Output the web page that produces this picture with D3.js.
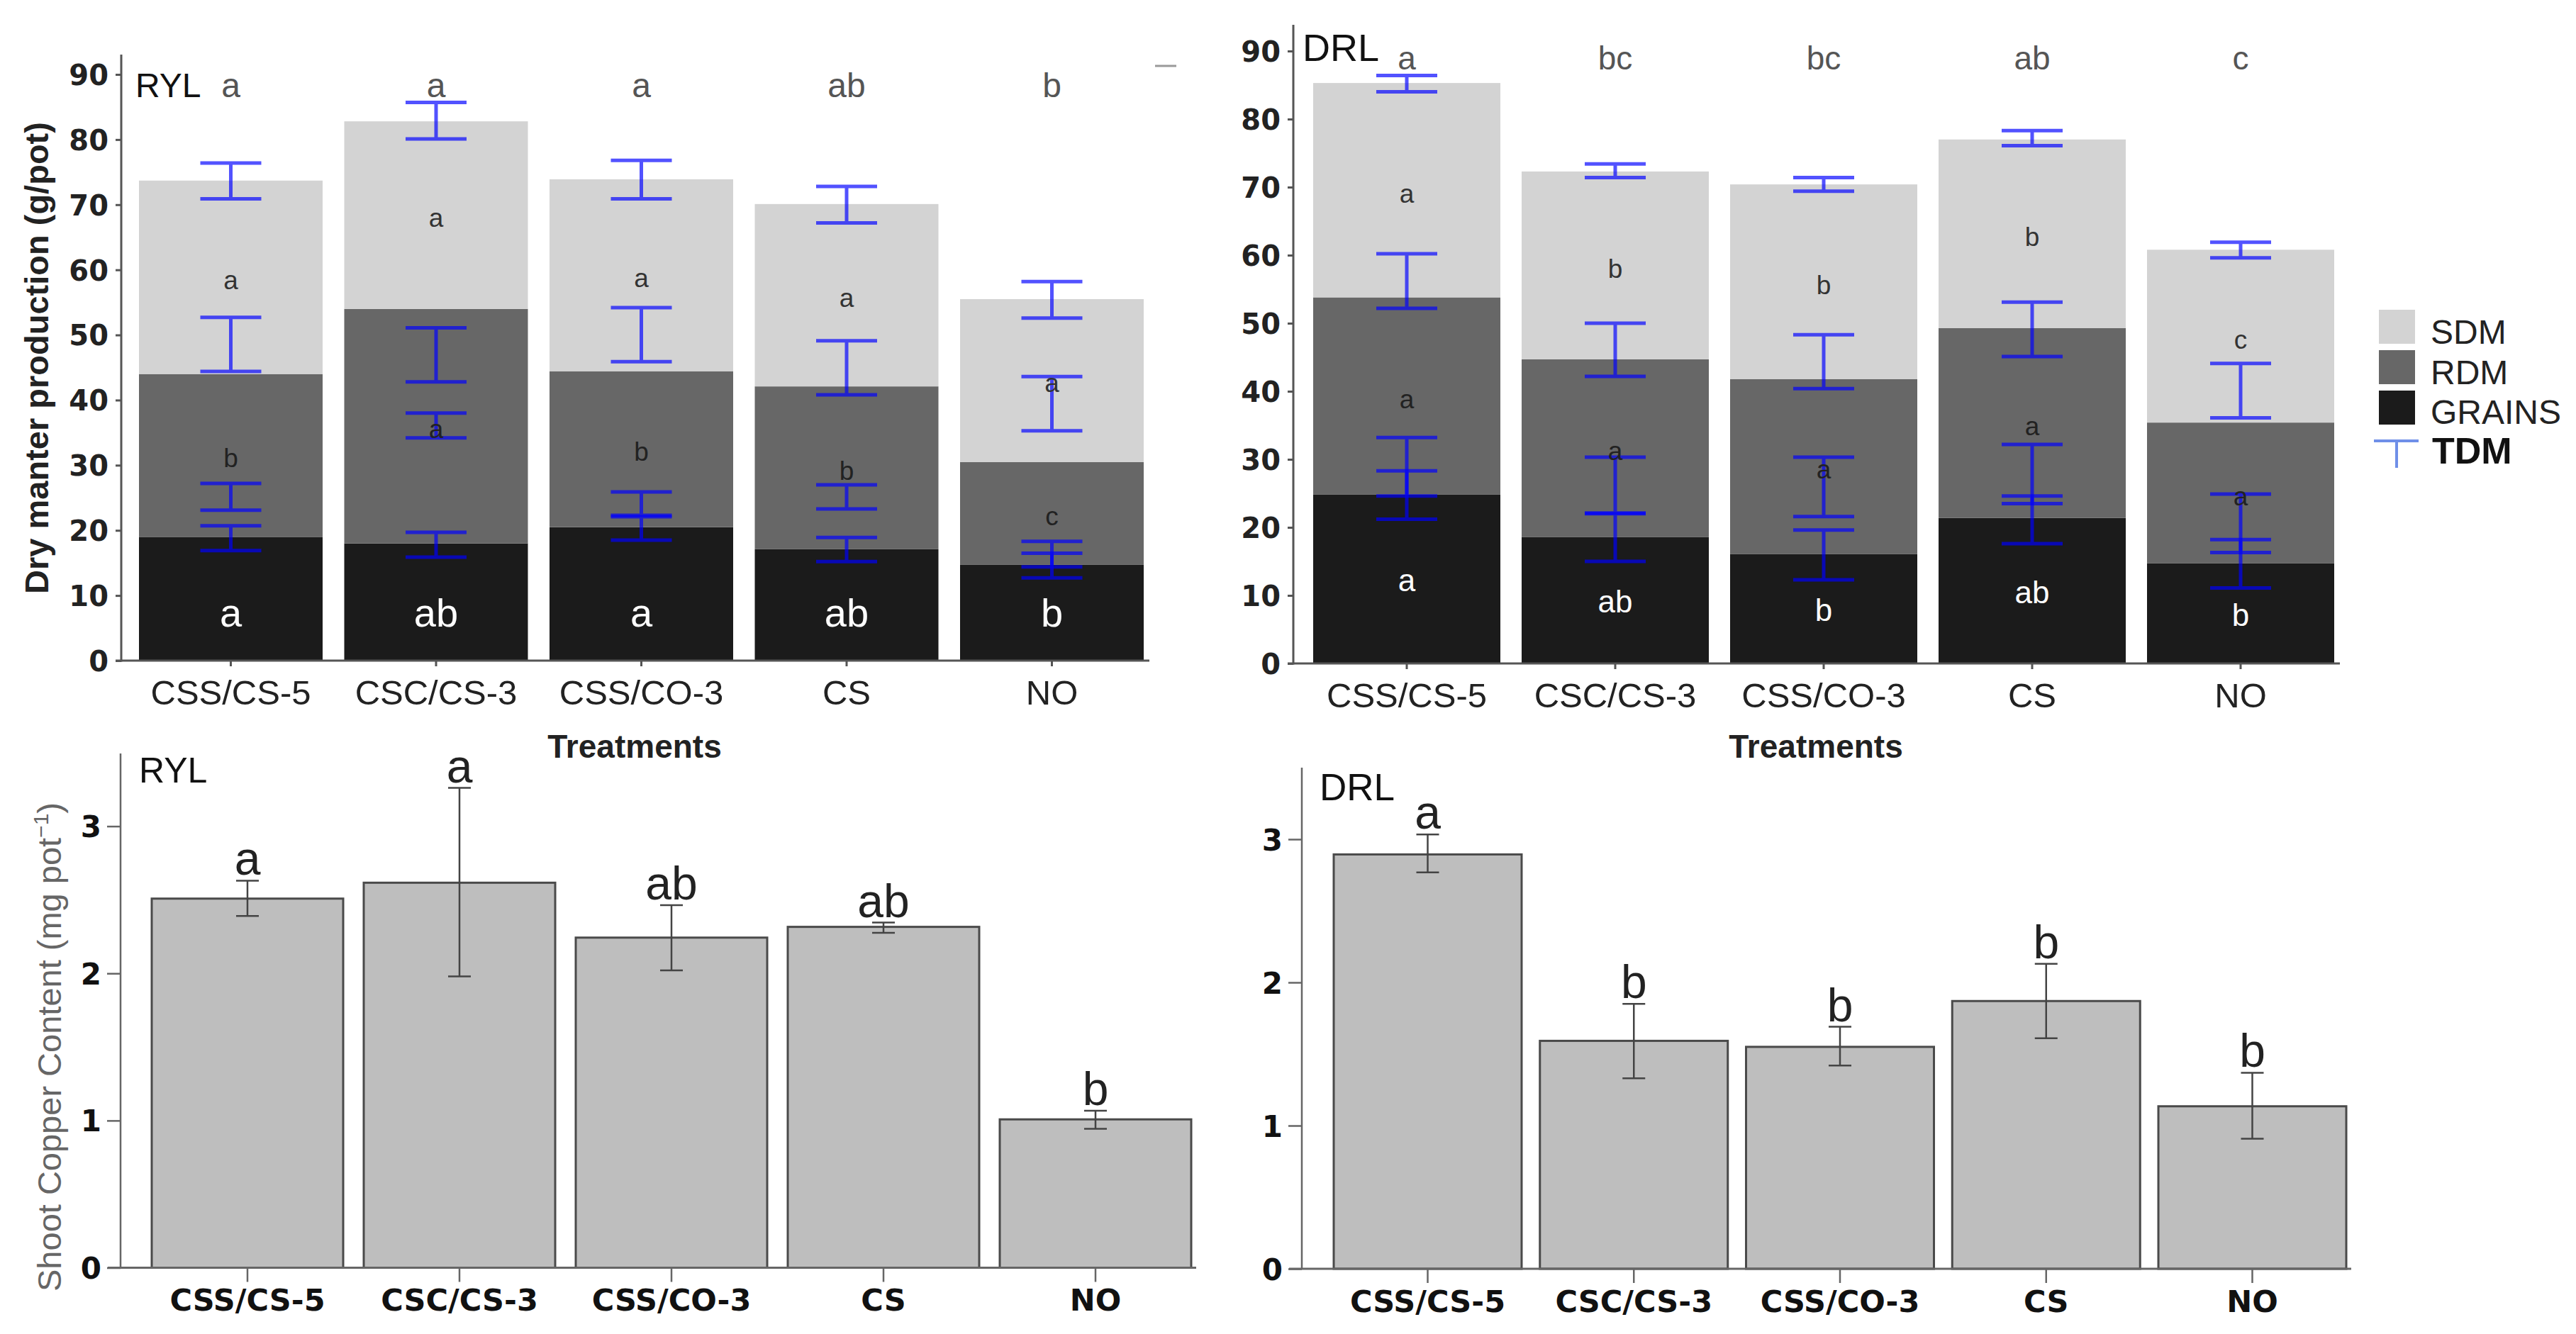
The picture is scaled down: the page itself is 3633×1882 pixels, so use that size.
<!DOCTYPE html>
<html><head><meta charset="utf-8">
<script src="https://cdn.jsdelivr.net/npm/d3@7/dist/d3.min.js"></script>
<style>body{margin:0;background:#fff}svg{display:block}</style>
</head><body>
<svg id="c" width="3633" height="1882"></svg>
<script>
// ---------------- DATA ----------------
const treatments = ["CSS/CS-5","CSC/CS-3","CSS/CO-3","CS","NO"];
const stackKeys = ["GRAINS","RDM","SDM"];
const legendNames = ["SDM","RDM","GRAINS"];
const errName = "TDM";
const yTicksDM = [0,10,20,30,40,50,60,70,80,90];
const yTicksCu = [0,1,2,3];

// RYL - dry matter production (g/pot), stacked components
const rylGrains = [19.0, 18.0, 20.5, 17.1, 14.7];
const rylRDM    = [25.0, 36.0, 23.9, 25.0, 15.8];
const rylSDM    = [29.7, 28.8, 29.5, 28.0, 25.0];
const rylGrainErr = [[16.9,20.7],[15.9,19.7],[18.5,22.1],[15.2,18.9],[12.7,16.5]];
const rylRdmErr   = [[23.1,27.2],[34.2,38.0],[22.3,25.9],[23.3,27.0],[14.4,18.3]];
const rylSdmErr   = [[44.4,52.7],[42.8,51.1],[45.9,54.2],[40.8,49.1],[35.3,43.6]];
const rylTdmErr   = [[70.9,76.4],[80.1,85.7],[70.9,76.8],[67.2,72.8],[52.6,58.2]];
const rylTopLetters   = ["a","a","a","ab","b"];
const rylSdmLetters   = ["a","a","a","a","a"];
const rylRdmLetters   = ["b","a","b","b","c"];
const rylGrainLetters = ["a","ab","a","ab","b"];

// DRL - dry matter production (g/pot)
const drlGrains = [24.8, 18.6, 16.1, 21.4, 14.7];
const drlRDM    = [29.0, 26.1, 25.7, 27.9, 20.7];
const drlSDM    = [31.5, 27.6, 28.6, 27.7, 25.4];
const drlGrainErr = [[21.2,28.3],[15.0,22.0],[12.3,19.6],[17.6,24.6],[11.1,18.2]];
const drlRdmErr   = [[24.6,33.2],[22.1,30.3],[21.6,30.3],[23.5,32.2],[16.3,24.9]];
const drlSdmErr   = [[52.2,60.2],[42.2,50.0],[40.4,48.3],[45.1,53.1],[36.1,44.1]];
const drlTdmErr   = [[84.0,86.4],[71.4,73.4],[69.4,71.4],[76.1,78.3],[59.6,61.9]];
const drlTopLetters   = ["a","bc","bc","ab","c"];
const drlSdmLetters   = ["a","b","b","b","c"];
const drlRdmLetters   = ["a","a","a","a","a"];
const drlGrainLetters = ["a","ab","b","ab","b"];

// Shoot copper content (mg pot-1)
const rylCu    = [2.508, 2.616, 2.243, 2.316, 1.008];
const rylCuErr = [[2.39,2.63],[1.98,3.26],[2.02,2.464],[2.276,2.345],[0.944,1.067]];
const rylCuLetters = ["a","a","ab","ab","b"];
const drlCu    = [2.894, 1.592, 1.550, 1.870, 1.135];
const drlCuErr = [[2.769,3.034],[1.33,1.85],[1.42,1.69],[1.61,2.13],[0.909,1.369]];
const drlCuLetters = ["a","b","b","b","b"];

// ---------------- STYLE ----------------
const F  = "'Liberation Sans', Arial, sans-serif";
const FD = "'DejaVu Sans', sans-serif";
const colors = {SDM:"#d3d3d3", RDM:"#676767", GRAINS:"#1b1b1b"};
const svg = d3.select("#c");

function band(x0, step, bw) {
  const pi = 1 - bw/step;
  return d3.scaleBand().domain(treatments)
    .range([x0, x0 + step*(treatments.length - pi)]).paddingInner(pi).paddingOuter(0);
}

function errBars(g, x, y, data, capW, stroke, sw, op) {
  const cx = (i) => x(treatments[i]) + x.bandwidth()/2;
  const eg = g.append("g").attr("stroke", stroke).attr("stroke-width", sw).attr("stroke-opacity", op).attr("fill","none");
  eg.selectAll("path").data(data).join("path")
    .attr("d", (d,i) => {
      const c = cx(i), lo = y(d[0]), hi = y(d[1]);
      return `M${c},${lo}V${hi}M${c-capW/2},${hi}H${c+capW/2}M${c-capW/2},${lo}H${c+capW/2}`;
    });
}

function stackedPanel(cfg) {
  const g = svg.append("g");
  const x = band(cfg.x0, cfg.step, cfg.bw);
  const y = d3.scaleLinear().domain([0,90]).range([cfg.yZero, cfg.y90]);
  const rows = treatments.map((t,i) => ({t, GRAINS: cfg.grains[i], RDM: cfg.rdm[i], SDM: cfg.sdm[i]}));
  const layers = d3.stack().keys(stackKeys)(rows);
  g.selectAll("g.layer").data(layers).join("g").attr("class","layer")
    .attr("fill", d => colors[d.key])
    .selectAll("rect").data(d => d).join("rect")
    .attr("x", d => x(d.data.t)).attr("width", x.bandwidth())
    .attr("y", d => y(d[1])).attr("height", d => y(d[0]) - y(d[1]));

  const ya = g.append("g").attr("transform", `translate(${cfg.ax},0)`)
    .call(d3.axisLeft(y).tickValues(yTicksDM).tickSize(8).tickPadding(10));
  ya.select(".domain").remove();
  ya.selectAll("line").attr("stroke","#555").attr("stroke-width",3);
  ya.selectAll("text").attr("font-family",FD).attr("font-weight","bold")
    .attr("font-size",40).attr("fill","#222").attr("dy","0.36em");
  const xa = g.append("g").attr("transform", `translate(0,${cfg.yZero})`)
    .call(d3.axisBottom(x).tickSize(8).tickPadding(19));
  xa.select(".domain").remove();
  xa.selectAll("line").attr("stroke","#555").attr("stroke-width",3);
  xa.selectAll("text").attr("font-family",F).attr("font-size",49).attr("fill","#222");
  g.append("line").attr("x1",cfg.ax).attr("x2",cfg.ax).attr("y1",cfg.axTop).attr("y2",cfg.yZero+1.5)
    .attr("stroke","#555").attr("stroke-width",3);
  g.append("line").attr("x1",cfg.ax-8).attr("x2",x.range()[1]+8).attr("y1",cfg.yZero).attr("y2",cfg.yZero)
    .attr("stroke","#555").attr("stroke-width",3);

  [cfg.grainErr, cfg.rdmErr, cfg.sdmErr, cfg.tdmErr].forEach(e =>
    errBars(g, x, y, e, 86, "#0000ff", 5, 0.68));

  const cx = t => x(t) + x.bandwidth()/2;
  g.append("g").selectAll("text").data(cfg.topLetters).join("text")
    .attr("x",(d,i)=>cx(treatments[i])).attr("y", y(cfg.topLetterV))
    .attr("text-anchor","middle").attr("font-family",F).attr("font-size",cfg.topFs)
    .attr("fill","#555").text(d=>d);
  g.append("g").selectAll("text").data(cfg.sdmLetters).join("text")
    .attr("x",(d,i)=>cx(treatments[i]))
    .attr("y",(d,i)=> y(cfg.grains[i]+cfg.rdm[i]+cfg.sdm[i]/2 - 1.8))
    .attr("text-anchor","middle").attr("font-family",F).attr("font-size",37)
    .attr("fill","#333").text(d=>d);
  g.append("g").selectAll("text").data(cfg.rdmLetters).join("text")
    .attr("x",(d,i)=>cx(treatments[i]))
    .attr("y",(d,i)=> y(cfg.grains[i]+cfg.rdm[i]/2 - 1.8))
    .attr("text-anchor","middle").attr("font-family",F).attr("font-size",37)
    .attr("fill","#222").text(d=>d);
  g.append("g").selectAll("text").data(cfg.grainLetters).join("text")
    .attr("x",(d,i)=>cx(treatments[i]))
    .attr("y",(d,i)=> y(cfg.grainLetterV ? cfg.grainLetterV : cfg.grains[i]/2 - 1.8))
    .attr("text-anchor","middle").attr("font-family",F).attr("font-size",cfg.grainFs)
    .attr("fill","#fff").text(d=>d);

  g.append("text").attr("x",cfg.tagX).attr("y",cfg.tagY).attr("font-family",F)
    .attr("font-size",cfg.tagFs).attr("fill","#111").text(cfg.tag);
  g.append("text").attr("x",cfg.treatX).attr("y",1069).attr("text-anchor","middle")
    .attr("font-family",F).attr("font-weight","bold").attr("font-size",46).attr("fill","#222")
    .text("Treatments");
  return g;
}

stackedPanel({x0:196, step:289.5, bw:259, yZero:932, y90:105, ax:171, axTop:77,
  grains:rylGrains, rdm:rylRDM, sdm:rylSDM,
  grainErr:rylGrainErr, rdmErr:rylRdmErr, sdmErr:rylSdmErr, tdmErr:rylTdmErr,
  topLetters:rylTopLetters, sdmLetters:rylSdmLetters, rdmLetters:rylRdmLetters, grainLetters:rylGrainLetters,
  topLetterV:86.5, topFs:48, grainFs:56, grainLetterV:5.2,
  tag:"RYL", tagX:191, tagY:137, tagFs:48, treatX:895});

stackedPanel({x0:1852, step:294, bw:264, yZero:936, y90:72, ax:1824, axTop:35,
  grains:drlGrains, rdm:drlRDM, sdm:drlSDM,
  grainErr:drlGrainErr, rdmErr:drlRdmErr, sdmErr:drlSdmErr, tdmErr:drlTdmErr,
  topLetters:drlTopLetters, sdmLetters:drlSdmLetters, rdmLetters:drlRdmLetters, grainLetters:drlGrainLetters,
  topLetterV:87.3, topFs:46, grainFs:44, grainLetterV:null,
  tag:"DRL", tagX:1837, tagY:86, tagFs:54, treatX:2561});

svg.append("line").attr("x1",1629).attr("x2",1659).attr("y1",93).attr("y2",93)
  .attr("stroke","#999").attr("stroke-width",3);

// legend
const lg = svg.append("g");
lg.selectAll("rect").data(legendNames).join("rect")
  .attr("x",3355).attr("y",(d,i)=>437+i*57).attr("width",51).attr("height",48)
  .attr("fill",d=>colors[d]);
lg.selectAll("text.l").data(legendNames).join("text").attr("class","l")
  .attr("x",3428).attr("y",(d,i)=>485+i*56.5).attr("font-family",F).attr("font-size",48)
  .attr("fill","#222").text(d=>d);
lg.append("path").attr("d","M3348,622H3411M3380,622V660").attr("stroke","#6f8fe8")
  .attr("stroke-width",4).attr("fill","none");
lg.append("text").attr("x",3430).attr("y",654).attr("font-family",F).attr("font-weight","bold")
  .attr("font-size",52).attr("fill","#111").text(errName);

// ---------------- copper panels ----------------
function cuPanel(cfg) {
  const g = svg.append("g");
  const x = band(cfg.x0, cfg.step, cfg.bw);
  const y = d3.scaleLinear().domain([0,3]).range([cfg.yZero, cfg.y3]);
  g.selectAll("rect").data(cfg.vals).join("rect")
    .attr("x",(d,i)=>x(treatments[i])).attr("width",x.bandwidth())
    .attr("y",d=>y(d)).attr("height",d=>cfg.yZero-y(d))
    .attr("fill","#bebebe").attr("stroke","#4a4a4a").attr("stroke-width",3);
  const ya = g.append("g").attr("transform",`translate(${cfg.ax},0)`)
    .call(d3.axisLeft(y).tickValues(yTicksCu).tickSize(19).tickPadding(8).tickFormat(d3.format("d")));
  ya.select(".domain").remove();
  ya.selectAll("line").attr("stroke","#666").attr("stroke-width",2.5);
  ya.selectAll("text").attr("font-family",FD).attr("font-weight","bold").attr("font-size",42)
    .attr("fill","#111").attr("dy","0.36em");
  const xa = g.append("g").attr("transform",`translate(0,${cfg.yZero})`)
    .call(d3.axisBottom(x).tickSize(20).tickPadding(10));
  xa.select(".domain").remove();
  xa.selectAll("line").attr("stroke","#666").attr("stroke-width",2.5);
  xa.selectAll("text").attr("font-family",FD).attr("font-weight","bold").attr("font-size",43).attr("fill","#111");
  g.append("line").attr("x1",cfg.ax).attr("x2",cfg.ax).attr("y1",cfg.axTop).attr("y2",cfg.yZero)
    .attr("stroke","#666").attr("stroke-width",2.5);
  g.append("line").attr("x1",cfg.ax-18).attr("x2",x.range()[1]+7).attr("y1",cfg.yZero).attr("y2",cfg.yZero)
    .attr("stroke","#666").attr("stroke-width",3);
  errBars(g, x, y, cfg.err, 32, "#444", 2.5, 1);
  g.selectAll("text.let").data(cfg.letters).join("text").attr("class","let")
    .attr("x",(d,i)=>x(treatments[i])+x.bandwidth()/2)
    .attr("y",(d,i)=>y(cfg.err[i][1])-8)
    .attr("text-anchor","middle").attr("font-family",F).attr("font-size",66).attr("fill","#222").text(d=>d);
  g.append("text").attr("x",cfg.tagX).attr("y",cfg.tagY).attr("font-family",F)
    .attr("font-size",cfg.tagFs).attr("fill","#111").text(cfg.tag);
  return g;
}

cuPanel({x0:214, step:299, bw:270, yZero:1788.5, y3:1165.6, ax:170, axTop:1063,
  vals:rylCu, err:rylCuErr, letters:rylCuLetters, tag:"RYL", tagX:196, tagY:1104, tagFs:50});
cuPanel({x0:1881, step:290.75, bw:265, yZero:1790, y3:1184, ax:1836, axTop:1083,
  vals:drlCu, err:drlCuErr, letters:drlCuLetters, tag:"DRL", tagX:1861, tagY:1129, tagFs:53});

svg.append("text").attr("transform","translate(68,505) rotate(-90)").attr("text-anchor","middle")
  .attr("font-family",F).attr("font-weight","bold").attr("font-size",47).attr("fill","#222")
  .text("Dry manter production (g/pot)");
const yt = svg.append("text").attr("transform","translate(86,1477) rotate(-90)").attr("text-anchor","middle")
  .attr("font-family",F).attr("font-size",47).attr("fill","#666");
yt.append("tspan").text("Shoot Copper Content (mg pot");
yt.append("tspan").attr("font-size",30).attr("dy",-18).text("−1");
yt.append("tspan").attr("dy",18).text(")");
</script>
</body></html>
